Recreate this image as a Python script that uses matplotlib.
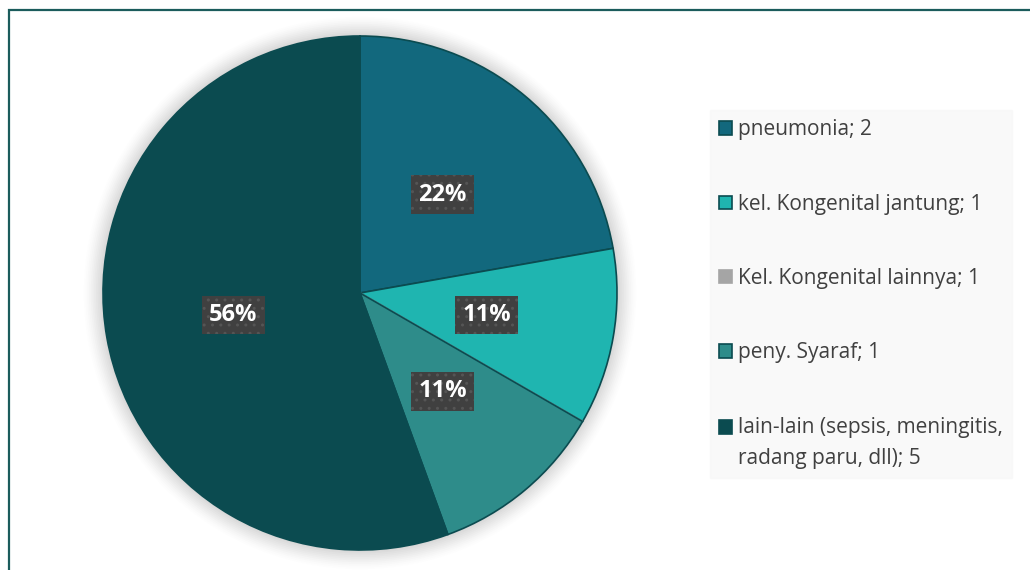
import numpy as np
import matplotlib.pyplot as plt
from matplotlib.patches import Rectangle, Circle

plt.rcParams['font.family'] = ['Open Sans', 'DejaVu Sans']

# data
categories = ['pneumonia', 'kel. Kongenital jantung', 'Kel. Kongenital lainnya',
              'peny. Syaraf', 'lain-lain (sepsis, meningitis,\nradang paru, dll)']
legend_counts = [2, 1, 1, 1, 5]
pie_values = [2, 1, 0, 1, 5]   # the grey slice has no area in the chart
colors = ['#12687D', '#1FB5B0', '#A5A5A5', '#2E8C8A', '#0B4B50']
edge_colors = ['#0B4B50', '#0B4B50', '#A5A5A5', '#0B4B50', '#0B4B50']

W, H = 1030, 570
fig = plt.figure(figsize=(W / 100, H / 100), dpi=100)
fig.patch.set_facecolor('white')

# outer frame (cut off at right and bottom like the screenshot)
fig.patches.append(Rectangle((9 / W, -0.2), 1.2, 1.2 - 10 / H,
                             transform=fig.transFigure, fill=False,
                             edgecolor='#1B5C5C', linewidth=1.6))

# pie axes: centre (360, 293) px, radius 257 px
cx, cy, R = 360, 293, 257
lim = 1.12
ax = fig.add_axes([(cx - lim * R) / W, (H - cy - lim * R) / H,
                   2 * lim * R / W, 2 * lim * R / H])

# soft glow around the pie
for r, a in zip(np.linspace(1.075, 1.0, 12), np.linspace(0.012, 0.05, 12)):
    ax.add_patch(Circle((0, 0), r, color='#808080', alpha=a, lw=0, zorder=0))


def pct(p):
    return '' if p < 0.5 else f'{p:.0f}%'


wedges, texts, autotexts = ax.pie(
    pie_values, colors=colors, startangle=90, counterclock=False, radius=1,
    autopct=pct, pctdistance=0.5,
    wedgeprops=dict(linewidth=1.2))
ax.set_xlim(-lim, lim)
ax.set_ylim(-lim, lim)
ax.axis('off')
for w, ec in zip(wedges, edge_colors):
    w.set_edgecolor(ec)
    w.set_zorder(2)
for t in autotexts:
    t.set_color('white')
    t.set_fontsize(17)
    t.set_fontweight('bold')
    t.set_zorder(5)
    if t.get_text():
        t.set_bbox(dict(boxstyle='square,pad=0.3', facecolor='#404040',
                        edgecolor='#555555', hatch='..', linewidth=0))

labels = [f'{c}; {n}' for c, n in zip(categories, legend_counts)]
leg = fig.legend(wedges, labels, loc='upper left',
                 bbox_to_anchor=(710 / W, 1 - 110 / H),
                 frameon=True, fancybox=False, fontsize=15,
                 labelspacing=2.56, handlelength=0.6, handleheight=0.6,
                 handletextpad=0.3, borderpad=0.45, borderaxespad=0)
leg.get_frame().set_facecolor('#F8F8F8')
leg.get_frame().set_edgecolor('#F8F8F8')
for t in leg.get_texts():
    t.set_color('#404040')
    t.set_linespacing(1.65)
# square of the two-line entry sits on its first line
last = leg.legend_handles[-1]
last.set_y(last.get_y() + 12)

fig.savefig('out.png', dpi=100)
